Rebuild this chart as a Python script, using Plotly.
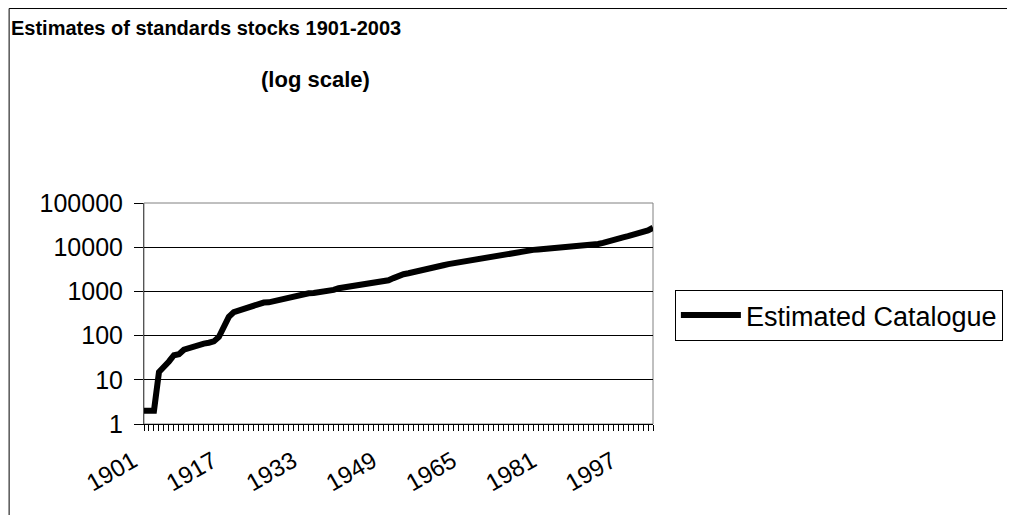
import plotly.graph_objects as go

years = list(range(1901, 2004))
catalogue = [
    2, 2, 2, 15, 19, 26, 36, 38, 48, 52,
    58, 64, 66, 69, 74, 93, 160, 265, 340, 370,
    400, 440, 480, 550, 560, 565, 600, 660, 690, 720,
    760, 800, 870, 910, 920, 940, 960, 1000, 1080, 1180,
    1230, 1290, 1320, 1380, 1440, 1480, 1550, 1620, 1700, 1780,
    2000, 2240, 2450, 2570, 2700, 2880, 3100, 3300, 3550, 3700,
    3900, 4150, 4350, 4550, 4800, 5000, 5250, 5500, 5750, 6000,
    6300, 6600, 6900, 7200, 7400, 7600, 7900, 8300, 8700, 8900,
    9100, 9300, 9400, 9550, 9700, 9800, 10000, 10100, 10300, 10700,
    11200, 11800, 12500, 13200, 14100, 15500, 16700, 17800, 19000, 20500,
    22000, 24000, 27500,
]
y_ticks = [1, 10, 100, 1000, 10000, 100000]
x_labels = [1901, 1917, 1933, 1949, 1965, 1981, 1997]

font = "Liberation Sans, Arial, sans-serif"

fig = go.Figure()
fig.add_trace(go.Scatter(
    x=years, y=catalogue, mode="lines", name="Estimated Catalogue",
    line=dict(color="black", width=6),
))

# the page body adds 8px, so the figure is 8px smaller than the window
fig.update_layout(
    width=1007, height=507,
    margin=dict(l=136, r=360, t=195, b=91),
    paper_bgcolor="white", plot_bgcolor="white",
    font=dict(family=font, color="black", size=22),
    showlegend=True,
    legend=dict(
        x=1.043, y=0.491, xanchor="left", yanchor="middle",
        bordercolor="black", borderwidth=1,
        font=dict(size=27), itemwidth=60,
    ),
    annotations=[
        dict(text="<b>Estimates of standards stocks 1901-2003</b>",
             xref="paper", yref="paper", x=-0.266, y=1.792,
             xanchor="left", yanchor="middle", showarrow=False,
             font=dict(size=20)),
        dict(text="<b>(log scale)</b>",
             xref="paper", yref="paper", x=0.337, y=1.557,
             xanchor="center", yanchor="middle", showarrow=False,
             font=dict(size=22)),
    ],
    shapes=[
        dict(type="rect", xref="paper", yref="paper", x0=0, x1=1, y0=0, y1=1,
             line=dict(color="#808080", width=1), layer="below"),
        dict(type="path", xref="paper", yref="paper",
             path="M -0.265 -0.42 L -0.265 1.88 L 1.71 1.88",
             line=dict(color="black", width=1)),
    ],
)

fig.update_xaxes(
    range=[1901, 2003],
    tickmode="array", tickvals=x_labels, ticktext=[str(v) for v in x_labels],
    tickangle=-30, ticks="outside", ticklen=6, tickcolor="black",
    ticklabelshift=-11, ticklabelstandoff=7,
    minor=dict(dtick=1, tick0=1901, ticks="outside", ticklen=6, tickcolor="black"),
    showline=True, linecolor="black", linewidth=1,
    showgrid=False, zeroline=False,
    tickfont=dict(size=24),
)
fig.update_yaxes(
    type="log", range=[0, 5],
    tickmode="array", tickvals=y_ticks, ticktext=[str(v) for v in y_ticks],
    ticks="outside", ticklen=9, tickcolor="black", ticklabelstandoff=6,
    showline=True, linecolor="#555555", linewidth=1,
    showgrid=True, gridcolor="black", gridwidth=1,
    zeroline=False, tickfont=dict(size=25),
)

fig.write_html("out.html")
